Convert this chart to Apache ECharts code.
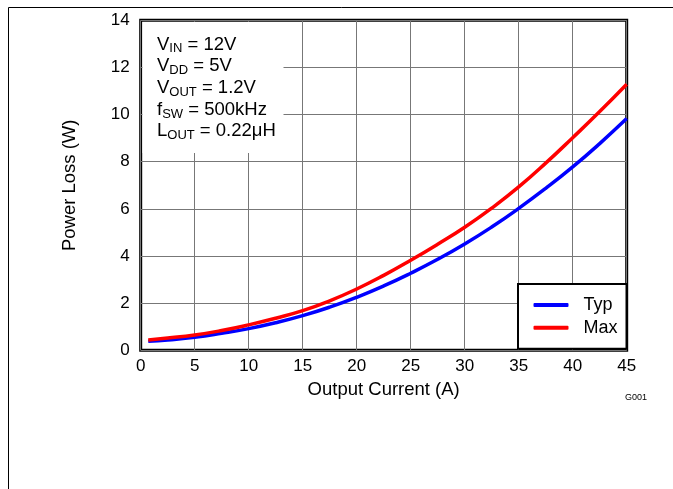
<!DOCTYPE html>
<html>
<head>
<meta charset="utf-8">
<script src="https://cdn.jsdelivr.net/npm/echarts@6/dist/echarts.min.js"></script>
<style>
html,body{margin:0;padding:0;background:#fff;}
#chart{width:673px;height:489px;}
</style>
</head>
<body>
<div id="chart"></div>
<script>
var current = [0.7, 2.5, 5, 7.5, 10, 12.5, 15, 17.5, 20, 22.5, 25, 27.5, 30, 32.5, 35, 37.5, 40, 42.5, 45];
var typLoss = [0.38, 0.44, 0.55, 0.72, 0.92, 1.17, 1.47, 1.83, 2.25, 2.73, 3.27, 3.86, 4.51, 5.23, 6.02, 6.87, 7.78, 8.77, 9.83];
var maxLoss = [0.44, 0.52, 0.65, 0.84, 1.08, 1.36, 1.68, 2.1, 2.6, 3.18, 3.82, 4.5, 5.22, 6.03, 6.93, 7.94, 9.02, 10.13, 11.29];
var xTicks = [0, 5, 10, 15, 20, 25, 30, 35, 40, 45];
var yTicks = [0, 2, 4, 6, 8, 10, 12, 14];

function pairs(xs, ys) { return xs.map(function (x, i) { return [x, ys[i]]; }); }

var FONT = 'Liberation Sans, Arial, sans-serif';
var chart = echarts.init(document.getElementById('chart'), null, {renderer: 'canvas'});

var rich = {
  a: {fontSize: 18.5, fontFamily: FONT, color: '#000', lineHeight: 21.7, verticalAlign: 'middle'},
  s: {fontSize: 13, fontFamily: FONT, color: '#000', lineHeight: 13, verticalAlign: 'bottom'}
};

chart.setOption({
  animation: false,
  backgroundColor: '#fff',
  grid: {
    left: 140.7, top: 20.3, width: 486, height: 330,
    show: true, borderColor: '#000', borderWidth: 3, backgroundColor: 'transparent'
  },
  xAxis: {
    type: 'value', min: xTicks[0], max: xTicks[xTicks.length - 1], interval: 5,
    name: 'Output Current (A)', nameLocation: 'middle', nameGap: 30,
    nameTextStyle: {fontSize: 18.5, fontFamily: FONT, color: '#000'},
    axisLine: {show: false}, axisTick: {show: false},
    axisLabel: {fontSize: 17, fontFamily: FONT, color: '#000', margin: 8},
    splitLine: {show: true, lineStyle: {color: '#777', width: 1}}
  },
  yAxis: {
    type: 'value', min: yTicks[0], max: yTicks[yTicks.length - 1], interval: 2,
    name: 'Power Loss (W)', nameLocation: 'middle', nameGap: 61,
    nameTextStyle: {fontSize: 18.5, fontFamily: FONT, color: '#000'},
    axisLine: {show: false}, axisTick: {show: false},
    axisLabel: {fontSize: 17, fontFamily: FONT, color: '#000', margin: 11},
    splitLine: {show: true, lineStyle: {color: '#777', width: 1}}
  },
  legend: {
    orient: 'vertical', left: 518, top: 284,
    padding: [12, 9, 12, 15.5],
    itemWidth: 35, itemHeight: 4, itemGap: 4.7,
    icon: 'roundRect',
    backgroundColor: '#fff', borderColor: '#000', borderWidth: 2, borderRadius: 0,
    textStyle: {fontSize: 18, fontFamily: FONT, color: '#000', lineHeight: 18, padding: [0, 0, 0, 10]},
    data: ['Typ', 'Max']
  },
  graphic: [
    {type: 'rect', z: 1, shape: {x: 142.5, y: 22, width: 141, height: 131}, style: {fill: '#fff'}},
    {type: 'rect', z: 0, silent: true, shape: {x: 8.5, y: 7.5, width: 700, height: 520}, style: {fill: null, stroke: '#000', lineWidth: 1}},
    {type: 'text', z: 3, left: 157, top: 35, style: {
      text: '{a|V}{s|IN}{a| = 12V}\n{a|V}{s|DD}{a| = 5V}\n{a|V}{s|OUT}{a| = 1.2V}\n{a|f}{s|SW}{a| = 500kHz}\n{a|L}{s|OUT}{a| = 0.22μH}',
      rich: rich, fill: '#000'
    }},
    {type: 'text', z: 3, left: 625, top: 393, style: {text: 'G001', fontSize: 9, fontFamily: FONT, fill: '#000'}}
  ],
  series: [
    {name: 'Typ', type: 'line', smooth: true, showSymbol: false, z: 4,
     lineStyle: {color: '#0000ff', width: 3.5}, itemStyle: {color: '#0000ff'},
     data: pairs(current, typLoss)},
    {name: 'Max', type: 'line', smooth: true, showSymbol: false, z: 5,
     lineStyle: {color: '#ff0000', width: 3.5}, itemStyle: {color: '#ff0000'},
     data: pairs(current, maxLoss)}
  ]
});
</script>
</body>
</html>
